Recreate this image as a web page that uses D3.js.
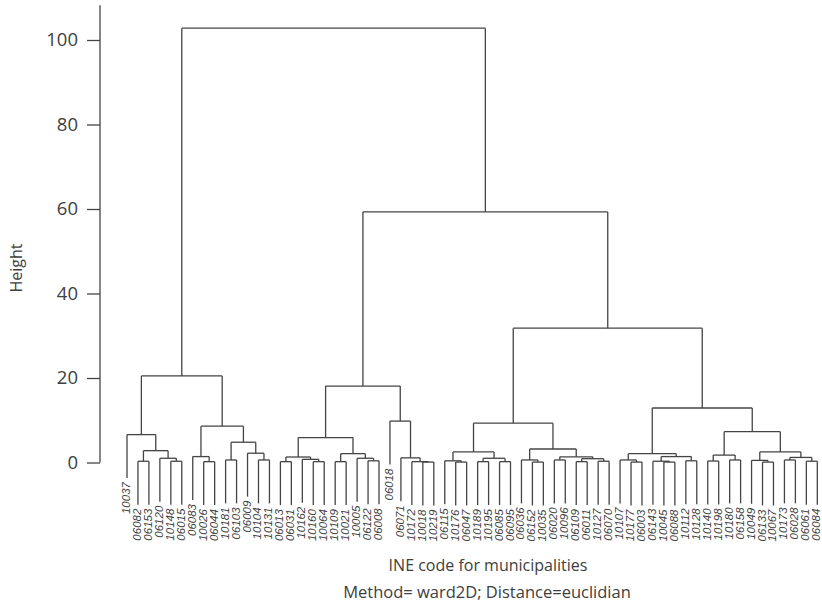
<!DOCTYPE html>
<html>
<head>
<meta charset="utf-8">
<script src="https://cdn.jsdelivr.net/npm/d3@7"></script>
<style>
  html, body { margin: 0; padding: 0; background: #fff; }
  svg { display: block; }
</style>
</head>
<body>
<svg id="chart" width="822" height="606"></svg>
<script>
// Leaf labels (municipality INE codes) in dendrogram order
const leafLabels = [
  "10037","06082","06153","06120","10148","06015","06083","10026","06044","10181",
  "06103","06009","10104","10131","06013","06031","10162","10160","10064","10109",
  "10021","10005","06122","06008","06018","06071","10172","10018","10219","06115",
  "10176","06047","10189","10195","06085","06095","06036","06152","10035","06020",
  "10096","06109","06011","10127","06070","10107","10177","06003","06143","10045",
  "06088","10112","10128","10140","10198","10180","06158","10049","06133","10067",
  "10173","06028","06061","06084"
];

// hclust-style merge table: negative = leaf (1-based), positive = earlier merge (1-based)
const merges = [
  [-28,-29],[-27,1],[-26,2],[-25,3],
  [-2,-3],[-5,-6],[-4,6],[5,7],[-1,8],
  [-8,-9],[-7,10],[-10,-11],[-13,-14],[-12,13],[12,14],[11,15],[9,16],
  [-15,-16],[-18,-19],[-17,19],[18,20],[-20,-21],[-23,-24],[-22,23],[22,24],[21,25],[26,4],
  [-31,-32],[-30,28],[-33,-34],[-35,-36],[30,31],[29,32],
  [-38,-39],[-37,34],[-40,-41],[-42,-43],[-44,-45],[37,38],[36,39],[35,40],[33,41],
  [-47,-48],[-46,43],[-50,-51],[-49,45],[-52,-53],[46,47],[44,48],
  [-54,-55],[-56,-57],[50,51],[-59,-60],[-58,53],[-61,-62],[-63,-64],[55,56],[54,57],[52,58],
  [49,59],[42,60],[27,61],[17,62]
];

// Merge heights, one per row of the merge table
const heights = [
  0.1,0.2,1.1,9.8,
  0.3,0.3,1.0,2.8,6.6,
  0.2,1.4,0.6,0.6,2.2,4.8,8.6,20.5,
  0.2,0.2,0.75,1.3,0.2,0.4,1.0,2.1,5.9,18.1,
  0.1,0.4,0.2,0.2,1.0,2.5,
  0.1,0.6,0.6,0.2,0.3,0.9,1.35,3.2,9.3,
  0.1,0.6,0.1,0.3,0.4,1.4,2.1,
  0.35,0.6,1.75,0.1,0.5,0.6,0.3,1.2,2.5,7.3,
  12.9,31.8,59.3,102.8
];

const yTicks = [0, 20, 40, 60, 80, 100];
const xTitle = "INE code for municipalities";
const subTitle = "Method= ward2D; Distance=euclidian";
const yTitle = "Height";

// Build a nested tree from the merge table
const nodes = merges.map((m, i) => ({ id: i + 1, height: heights[i], pair: m }));
function toNode(ref) {
  if (ref < 0) return { name: leafLabels[-ref - 1], height: null };
  const n = nodes[ref - 1];
  return { name: "m" + n.id, height: n.height, children: n.pair.map(toNode) };
}
const root = d3.hierarchy(toNode(merges.length));

const svg = d3.select("#chart");
const ink = "#444";
const textCol = "#404040";

const x = d3.scalePoint().domain(leafLabels).range([127, 817.3]);
const y = d3.scaleLinear().domain([0, 100]).range([462.5, 40]);

const maxH = d3.max(heights);
const hang = 0.1 * maxH;

// Positions: leaves from the point scale, internal nodes centred over their children
root.eachAfter(d => {
  if (d.children) d.x = (d.children[0].x + d.children[1].x) / 2;
  else d.x = x(d.data.name);
});

const g = svg.append("g")
  .attr("fill", "none")
  .attr("stroke", ink)
  .attr("stroke-width", 1.3);

root.each(d => {
  if (!d.children) return;
  const yh = y(d.data.height);
  g.append("line")
    .attr("x1", d.children[0].x).attr("x2", d.children[1].x)
    .attr("y1", yh).attr("y2", yh);
  d.children.forEach(c => {
    const yEnd = c.children ? y(c.data.height) : y(d.data.height - hang);
    g.append("line")
      .attr("x1", c.x).attr("x2", c.x)
      .attr("y1", yh).attr("y2", yEnd);
    if (!c.children) c.labelY = yEnd;
  });
});

// Leaf labels, rotated, hanging below each leaf
svg.append("g")
  .selectAll("text")
  .data(root.leaves())
  .join("text")
  .attr("transform", d => `translate(${d.x + 3},${d.labelY + 4}) rotate(-90)`)
  .attr("text-anchor", "end")
  .attr("font-family", "Liberation Sans, Arial, sans-serif")
  .attr("font-style", "italic")
  .attr("font-size", 11.5)
  .attr("fill", textCol)
  .text(d => d.data.name);

// Y axis
const axisG = svg.append("g").attr("transform", "translate(100,0)");
axisG.append("line")
  .attr("x1", 0).attr("x2", 0)
  .attr("y1", y(108.2)).attr("y2", y(0))
  .attr("stroke", ink).attr("stroke-width", 1.3);
const yAxis = d3.axisLeft(y).tickValues(yTicks).tickSize(13).tickPadding(9);
const ax = axisG.append("g").call(yAxis);
ax.select(".domain").remove();
ax.selectAll(".tick line").attr("stroke", ink).attr("stroke-width", 1.3);
ax.selectAll(".tick text")
  .attr("font-family", "Open Sans, sans-serif")
  .attr("font-size", 18.5)
  .attr("fill", textCol);

svg.append("text")
  .attr("transform", "translate(22,268) rotate(-90)")
  .attr("text-anchor", "middle")
  .attr("font-family", "Open Sans, sans-serif")
  .attr("font-size", 16)
  .attr("fill", textCol)
  .text(yTitle);

svg.append("text")
  .attr("x", 488).attr("y", 571)
  .attr("text-anchor", "middle")
  .attr("font-family", "Open Sans, sans-serif")
  .attr("font-size", 16)
  .attr("fill", textCol)
  .text(xTitle);

svg.append("text")
  .attr("x", 487).attr("y", 598)
  .attr("text-anchor", "middle")
  .attr("font-family", "Open Sans, sans-serif")
  .attr("font-size", 16.5)
  .attr("fill", textCol)
  .text(subTitle);
</script>
</body>
</html>
